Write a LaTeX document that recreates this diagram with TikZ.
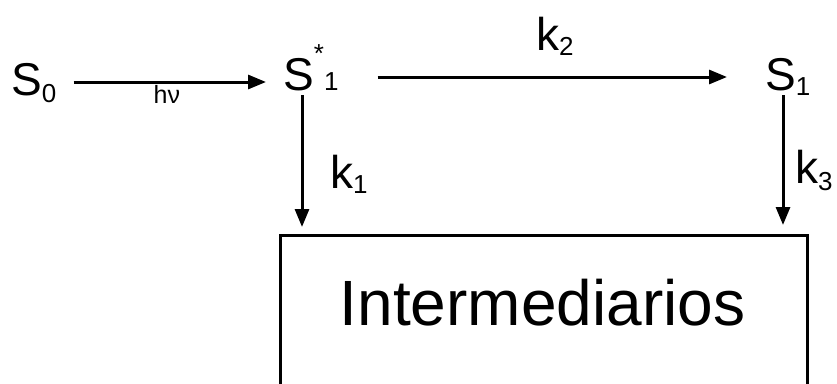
\documentclass[tikz,border=0pt]{standalone}
\usepackage{fontspec}
\setmainfont{Liberation Sans}
\usetikzlibrary{arrows.meta,calc}
\newcommand\mysub[2]{\raisebox{-#1pt}{\fontsize{26}{26}\selectfont #2}}
\newcommand\mysmall[1]{{\fontsize{26}{26}\selectfont #1}}
\begin{document}
\begin{tikzpicture}[x=1pt,y=-1pt,
  lbl/.style={inner sep=0pt,anchor=base west,font=\fontsize{46}{46}\selectfont},
  arr/.style={line width=3pt,-{Triangle[length=18pt,width=14pt]}},
  boxst/.style={draw,line width=2.6pt,inner sep=0pt,anchor=north west,minimum width=527pt,minimum height=190pt}]
\useasboundingbox (0,0) rectangle (837,383);
\clip (0,0) rectangle (837,383);
\node[lbl] (S0) at (11,95) {S\mysub{7}{0}};
\node[lbl] (S1s) at (283,90) {S\raisebox{28pt}{\mysmall{*}}\mysmall{1}};
\node[lbl] (S1) at (765,90) {S\mysub{5}{1}};
\node[boxst] (box) at (279,234) {};
\node[inner sep=0pt,anchor=base,font=\fontsize{64}{64}\selectfont] (inter) at (542.5,325) {Intermediarios};
\node[inner sep=0pt,anchor=base west,font=\fontsize{25}{25}\selectfont] (hv) at (153.5,103) {hν};
\node[lbl] (k2) at (536,50) {k\mysub{5}{2}};
\node[lbl] (k1) at (330,188) {k\mysub{5}{1}};
\node[lbl] (k3) at (795,183) {k\mysub{7}{3}};
\coordinate (a1) at ([shift={(19,5)}]S1s.base west);
\coordinate (a3) at ([shift={(18,5)}]S1.base west);
\coordinate (b1) at ([yshift=7pt]a1 |- box.north);
\coordinate (b3) at ([yshift=9pt]a3 |- box.north);
\draw[arr] ([shift={(17,-13)}]S0.base east) -- ([shift={(-17,-8)}]S1s.base west);
\draw[arr] ([shift={(39,-13)}]S1s.base east) -- ([shift={(-38,-13)}]S1.base west);
\draw[arr] (a1) -- (b1);
\draw[arr] (a3) -- (b3);
\end{tikzpicture}
\end{document}
